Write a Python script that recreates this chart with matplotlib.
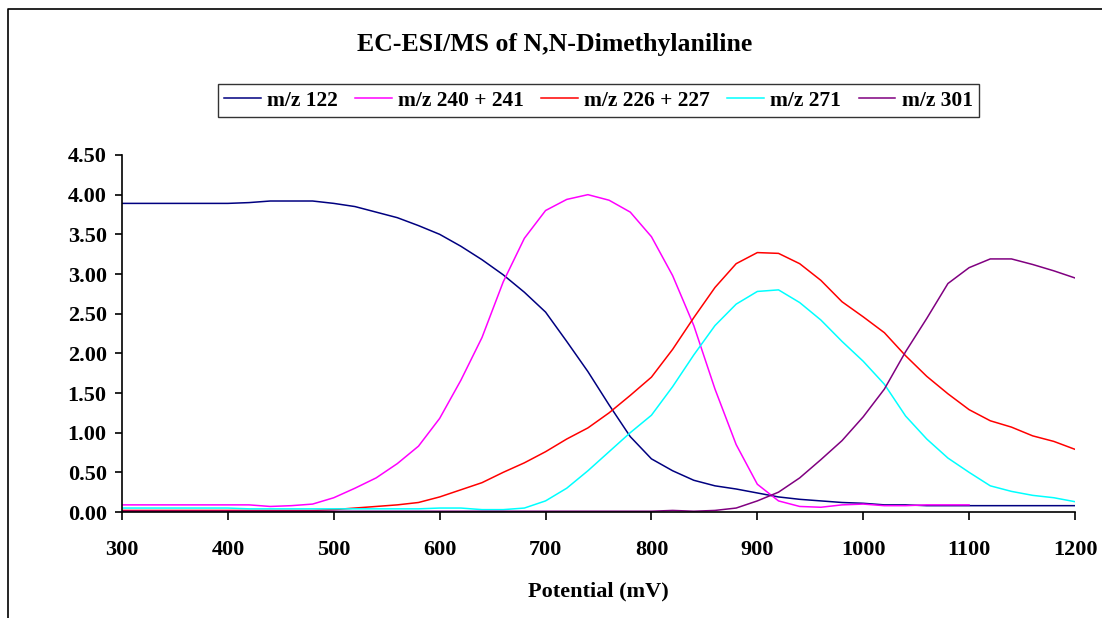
import numpy as np
import matplotlib
matplotlib.use("Agg")
import matplotlib.pyplot as plt
from matplotlib.lines import Line2D

# potential (mV), one reading every 20 mV
potential = list(range(300, 1201, 20))

mz122 = [3.89, 3.89, 3.89, 3.89, 3.89, 3.89, 3.90, 3.92, 3.92, 3.92,
         3.89, 3.85, 3.78, 3.71, 3.61, 3.50, 3.35, 3.18, 2.99, 2.77,
         2.52, 2.15, 1.77, 1.35, 0.95, 0.67, 0.52, 0.40, 0.33, 0.29,
         0.24, 0.19, 0.16, 0.14, 0.12, 0.11, 0.09, 0.09, 0.08, 0.08,
         0.08, 0.08, 0.08, 0.08, 0.08, 0.08]

mz240 = [0.09, 0.09, 0.09, 0.09, 0.09, 0.09, 0.09, 0.07, 0.08, 0.10,
         0.18, 0.30, 0.43, 0.61, 0.83, 1.18, 1.66, 2.20, 2.90, 3.45,
         3.80, 3.94, 4.00, 3.93, 3.78, 3.47, 2.98, 2.35, 1.55, 0.85,
         0.35, 0.14, 0.07, 0.06, 0.09, 0.10, 0.08, 0.08, 0.09, 0.09,
         0.09, np.nan, np.nan, np.nan, np.nan, np.nan]

mz226 = [0.02, 0.02, 0.02, 0.02, 0.02, 0.02, 0.02, 0.02, 0.02, 0.02,
         0.03, 0.05, 0.07, 0.09, 0.12, 0.19, 0.28, 0.37, 0.50, 0.62,
         0.76, 0.92, 1.06, 1.25, 1.47, 1.70, 2.05, 2.45, 2.83, 3.13,
         3.27, 3.26, 3.13, 2.92, 2.65, 2.46, 2.26, 1.97, 1.71, 1.49,
         1.29, 1.15, 1.07, 0.96, 0.89, 0.79]

mz271 = [0.05, 0.05, 0.05, 0.05, 0.05, 0.05, 0.04, 0.04, 0.04, 0.04,
         0.04, 0.04, 0.04, 0.04, 0.04, 0.05, 0.05, 0.03, 0.03, 0.05,
         0.14, 0.30, 0.52, 0.76, 1.00, 1.22, 1.58, 1.98, 2.35, 2.62,
         2.78, 2.80, 2.64, 2.42, 2.15, 1.90, 1.61, 1.21, 0.92, 0.68,
         0.50, 0.33, 0.26, 0.21, 0.18, 0.13]

mz301 = [0.01, 0.01, 0.01, 0.01, 0.01, 0.01, 0.01, 0.01, 0.01, 0.01,
         0.01, 0.01, 0.01, 0.01, 0.01, 0.01, 0.01, 0.01, 0.01, 0.01,
         0.01, 0.01, 0.01, 0.01, 0.01, 0.01, 0.02, 0.01, 0.02, 0.05,
         0.14, 0.25, 0.43, 0.66, 0.90, 1.20, 1.55, 2.02, 2.44, 2.88,
         3.08, 3.19, 3.19, 3.12, 3.04, 2.95]

labels = ["m/z 122", "m/z 240 + 241", "m/z 226 + 227", "m/z 271", "m/z 301"]
colors = ["#000080", "#FF00FF", "#FF0000", "#00FFFF", "#800080"]

plt.rcParams['font.family'] = ['Liberation Serif', 'DejaVu Serif']
plt.rcParams['font.weight'] = 'bold'

fig = plt.figure(figsize=(11.02, 6.18), dpi=100)
ax = fig.add_axes([0.1107, 0.1715, 0.8648, 0.5777])

for series, lab, col in zip([mz122, mz240, mz226, mz271, mz301], labels, colors):
    ax.plot(potential, series, color=col, lw=1.1, label=lab)

ax.set_xlim(300, 1200)
ax.set_ylim(0, 4.5)
ax.set_xticks(range(300, 1201, 100))
ax.set_yticks(np.arange(0, 4.51, 0.5))
ax.set_yticklabels([f"{v:.2f}" for v in np.arange(0, 4.51, 0.5)])
ax.spines['top'].set_visible(False)
ax.spines['right'].set_visible(False)
ax.spines['left'].set_linewidth(1.2)
ax.spines['bottom'].set_linewidth(1.2)
ax.tick_params(axis='x', direction='out', length=6, width=1.2, pad=14, labelsize=16)
ax.tick_params(axis='y', direction='out', length=5, width=1.2, pad=6, labelsize=16)
for t in ax.get_xticklabels() + ax.get_yticklabels():
    t.set_fontweight('bold')

fig.text(0.5035, 1 - 45 / 618, "EC-ESI/MS of N,N-Dimethylaniline",
         ha='center', va='center', fontsize=18.5, fontweight='bold')
fig.text(0.543, 1 - 591 / 618, "Potential (mV)",
         ha='center', va='center', fontsize=16, fontweight='bold')

leg = fig.legend(loc='center', bbox_to_anchor=(0.543, 1 - 100.5 / 618), ncol=5,
                 frameon=True, fancybox=False, handlelength=1.7,
                 handletextpad=0.3, columnspacing=0.8, borderpad=0.3,
                 prop={'weight': 'bold', 'size': 15.5})
leg.get_frame().set_edgecolor('black')
leg.get_frame().set_linewidth(1.0)

# outer chart border (left and top edges visible)
fig.add_artist(Line2D([8 / 1102, 8 / 1102, 1.0], [0.0, 1 - 9 / 618, 1 - 9 / 618],
                      transform=fig.transFigure, color='black', lw=1.2))

fig.savefig("out.png", dpi=100)
